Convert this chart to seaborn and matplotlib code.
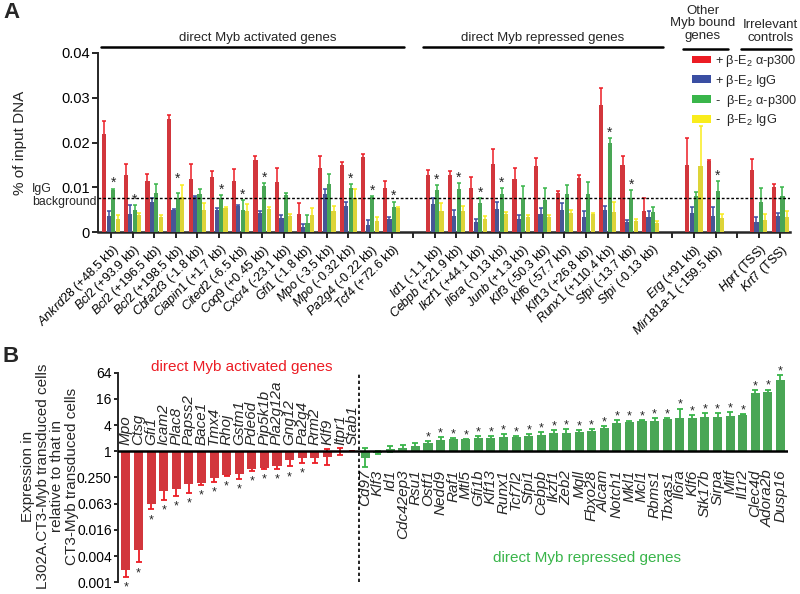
import numpy as np
import pandas as pd
import matplotlib
matplotlib.use('Agg')
import matplotlib.pyplot as plt
import matplotlib.transforms as mtrans
import seaborn as sns
from matplotlib.patches import Patch

sns.set_style('ticks')
plt.rcParams['font.family'] = ['Liberation Sans', 'DejaVu Sans']
plt.rcParams['mathtext.fontset'] = 'custom'
plt.rcParams['mathtext.rm'] = 'Liberation Sans'
plt.rcParams['mathtext.it'] = 'Liberation Sans:italic'
plt.rcParams['mathtext.bf'] = 'Liberation Sans:bold'

# ---------------- Panel A data ----------------
act_genes = ['Ankrd28', 'Bcl2', 'Bcl2', 'Bcl2', 'Cbfa2t3', 'Ciapin1', 'Cited2', 'Coq9',
             'Cxcr4', 'Gfi1', 'Mpo', 'Mpo', 'Pa2g4', 'Tcf4']
act_sites = ['+48.5 kb', '+93.9 kb', '+196.5 kb', '+198.5 kb', '-1.8 kb', '+1.7 kb', '-6.5 kb',
             '+0.45 kb', '-23.1 kb', '-1.8 kb', '-3.5 kb', '-0.32 kb', '-0.22 kb', '+72.6 kb']
rep_genes = ['Id1', 'Cebpb', 'Ikzf1', 'Il6ra', 'Junb', 'Klf3', 'Klf6', 'Klf13', 'Runx1', 'Sfpi', 'Sfpi']
rep_sites = ['-1.1 kb', '+21.9 kb', '+44.1 kb', '-0.13 kb', '+1.3 kb', '-50.3 kb', '-57.7 kb',
             '+26.8 kb', '+110.4 kb', '-13.7 kb', '-0.13 kb']
oth_genes = ['Erg', 'Mir181a-1']
oth_sites = ['+91 kb', '-159.5 kb']
irr_genes = ['Hprt', 'Krt7']
irr_sites = ['TSS', 'TSS']

conditions = ['+ β-E$_2$ α-p300', '+ β-E$_2$ IgG', '-  β-E$_2$ α-p300', '-  β-E$_2$ IgG']

red_val = [0.0218, 0.0128, 0.0113, 0.0253, 0.0119, 0.0123, 0.0113, 0.0160, 0.0111, 0.0040,
           0.0144, 0.0149, 0.0167, 0.0099,
           0.0127, 0.0127, 0.0099, 0.0151, 0.0119, 0.0147, 0.0088, 0.0120, 0.0284, 0.0149, 0.0047,
           0.0150, 0.0159, 0.0138, 0.0100]
red_err = [0.0031, 0.0023, 0.0016, 0.0009, 0.0032, 0.0013, 0.0028, 0.0010, 0.0033, 0.0024,
           0.0026, 0.0007, 0.0008, 0.0014,
           0.0011, 0.0009, 0.0023, 0.0034, 0.0024, 0.0019, 0.0004, 0.0007, 0.0038, 0.0021, 0.0028,
           0.0060, 0.0003, 0.0026, 0.0008]
blue_val = [0.0036, 0.0040, 0.0067, 0.0049, 0.0079, 0.0050, 0.0058, 0.0043, 0.0032, 0.0012,
            0.0084, 0.0059, 0.0015, 0.0030,
            0.0062, 0.0036, 0.0022, 0.0052, 0.0030, 0.0041, 0.0050, 0.0034, 0.0049, 0.0023, 0.0034,
            0.0043, 0.0036, 0.0023, 0.0036]
blue_err = [0.0011, 0.0021, 0.0009, 0.0002, 0.0002, 0.0003, 0.0003, 0.0004, 0.0007, 0.0006,
            0.0013, 0.0008, 0.0012, 0.0003,
            0.0014, 0.0014, 0.0006, 0.0015, 0.0008, 0.0012, 0.0014, 0.0012, 0.0010, 0.0004, 0.0012,
            0.0012, 0.0020, 0.0010, 0.0007]
green_val = [0.0093, 0.0049, 0.0088, 0.0076, 0.0084, 0.0077, 0.0050, 0.0103, 0.0082, 0.0021,
             0.0108, 0.0099, 0.0079, 0.0056,
             0.0093, 0.0095, 0.0064, 0.0086, 0.0077, 0.0071, 0.0086, 0.0086, 0.0199, 0.0076, 0.0045,
             0.0081, 0.0091, 0.0067, 0.0080]
green_err = [0.0004, 0.0011, 0.0020, 0.0011, 0.0012, 0.0005, 0.0021, 0.0007, 0.0006, 0.0018,
             0.0021, 0.0008, 0.0002, 0.0012,
             0.0011, 0.0015, 0.0012, 0.0013, 0.0025, 0.0028, 0.0018, 0.0025, 0.0011, 0.0017, 0.0010,
             0.0009, 0.0022, 0.0032, 0.0021]
yellow_val = [0.0028, 0.0037, 0.0033, 0.0078, 0.0049, 0.0053, 0.0048, 0.0052, 0.0036, 0.0038,
              0.0047, 0.0076, 0.0024, 0.0053,
              0.0047, 0.0047, 0.0028, 0.0041, 0.0034, 0.0034, 0.0043, 0.0041, 0.0045, 0.0024, 0.0019,
              0.0147, 0.0032, 0.0027, 0.0034]
yellow_err = [0.0009, 0.0006, 0.0005, 0.0028, 0.0015, 0.0003, 0.0014, 0.0004, 0.0005, 0.0015,
              0.0010, 0.0020, 0.0010, 0.0002,
              0.0017, 0.0010, 0.0007, 0.0004, 0.0004, 0.0004, 0.0007, 0.0002, 0.0022, 0.0004, 0.0005,
              0.0089, 0.0009, 0.0014, 0.0013]
# sites marked with an asterisk (index into the 29 sites)
a_star_idx = [0, 1, 3, 5, 6, 7, 11, 12, 13, 14, 15, 16, 17, 22, 23, 26]
igg_background = 0.0075

# ---------------- Panel B data ----------------
b_act_genes = ['Mpo', 'Ctsg', 'Gfi1', 'Icam2', 'Plac8', 'Papss2', 'Bace1', 'Tmx4', 'Rhoj', 'Gstm1',
               'Pde6d', 'Pip5k1b', 'Pla2g12a', 'Gng12', 'Pa2g4', 'Rrm2', 'Klf9', 'Itpr1', 'Stab1']
b_act_fold = [0.0019, 0.0055, 0.062, 0.122, 0.136, 0.174, 0.187, 0.244, 0.281, 0.296,
              0.39, 0.414, 0.45, 0.62, 0.70, 0.70, 0.74, 1.0, 1.0]
b_act_errend = [0.0013, 0.0028, 0.046, 0.077, 0.094, 0.11, 0.168, 0.20, 0.27, 0.23,
                0.35, 0.40, 0.39, 0.45, 0.54, 0.54, 0.48, 1.22, 1.0]
b_act_star = [True] * 15 + [False] * 4

b_rep_genes = ['Cd97', 'Klf3', 'Id1', 'Cdc42ep3', 'Rsu1', 'Ostf1', 'Nedd9', 'Raf1', 'Mtl5', 'Gfi1b',
               'Klf13', 'Runx1', 'Tcf7l2', 'Sfpi1', 'Cebpb', 'Ikzf1', 'Zeb2', 'Mgll', 'Fbxo28', 'Alcam',
               'Notch1', 'Mkl1', 'Mcl1', 'Rbms1', 'Tbxas1', 'Il6ra', 'Klf6', 'Stk17b', 'Sirpa', 'Mitf',
               'Il1r2', 'Clec4d', 'Adora2b', 'Dusp16']
b_rep_fold = [0.72, 0.93, 1.13, 1.21, 1.30, 1.56, 1.79, 1.96, 1.89, 2.06,
              2.02, 2.10, 2.13, 2.21, 2.42, 2.68, 2.68, 2.78, 2.99, 3.44,
              4.48, 4.72, 5.07, 4.89, 5.62, 5.83, 5.94, 6.15, 6.15, 6.6,
              6.96, 21.9, 23.1, 44.3]
b_rep_errend = [0.43, 0.86, 1.30, 1.42, 1.58, 1.69, 2.13, 2.06, 1.92, 2.2,
                2.25, 2.46, 2.25, 2.5, 2.79, 3.1, 3.32, 3.14, 3.32, 3.81,
                5.35, 5.1, 5.2, 5.94, 5.9, 9.6, 6.8, 7.6, 7.6, 7.9,
                7.1, 25.3, 26.2, 55.7]
b_rep_star = [False] * 5 + [True] * 29
b_ticks = [6, 4, 2, 0, -2, -4, -6, -8, -10]
b_ticklabels = ['64', '16', '4', '1', '0.250', '0.063', '0.016', '0.004', '0.001']

# ---------------- styling ----------------
RED, BLUE, GREEN, YELLOW = '#EC1C24', '#3A4EA2', '#39B54A', '#F9EC1C'
colorsA = [RED, BLUE, GREEN, YELLOW]
W, H = 800, 594


def fx(x):
    return x / W


def fy(y):
    return 1 - y / H


def site_label(g, s):
    parts = g.split('-')
    gene = '-'.join(r'$\mathit{%s}$' % p for p in parts)
    return '%s (%s)' % (gene, s)


fig = plt.figure(figsize=(8, 5.94), dpi=100)
axA = fig.add_axes([fx(98), fy(232), fx(790 - 98), (232 - 53) / H])
axB = fig.add_axes([fx(118), fy(582.3), fx(788 - 118), (582.3 - 372.7) / H])

# ---------------- Panel A ----------------
all_genes = act_genes + rep_genes + oth_genes + irr_genes
all_sites = act_sites + rep_sites + oth_sites + irr_sites
keys = ['%s (%s)' % (g, s) for g, s in zip(all_genes, all_sites)]
order = (keys[:14] + ['gap1'] + keys[14:25] + ['gap2'] + keys[25:27] + ['gap3'] + keys[27:])
slot = {k: i for i, k in enumerate(order)}

vals = [red_val, blue_val, green_val, yellow_val]
errs = [red_err, blue_err, green_err, yellow_err]
rows = []
for gi, k in enumerate(keys):
    for c, v in zip(conditions, vals):
        rows.append({'site': k, 'cond': c, 'value': v[gi]})
dfA = pd.DataFrame(rows)

sns.barplot(data=dfA, x='site', y='value', hue='cond', order=order, hue_order=conditions,
            palette=colorsA, errorbar=None, width=0.82, gap=0.06, linewidth=0,
            legend=False, ax=axA, zorder=3)

for ci in range(4):
    xs = [slot[k] - 0.3075 + 0.205 * ci for k in keys]
    axA.errorbar(xs, vals[ci], yerr=errs[ci], fmt='none', ecolor=colorsA[ci],
                 elinewidth=1.1, capsize=1.6, capthick=1.1, zorder=2)

for i in a_star_idx:
    top = max(blue_val[i] + blue_err[i], green_val[i] + green_err[i], yellow_val[i] + yellow_err[i])
    axA.text(slot[keys[i]] + 0.1, top + 0.0003, '*', ha='center', va='baseline', fontsize=10)

axA.axhline(igg_background, color='black', lw=1.0, ls=(0, (2, 1.4)), zorder=4)

axA.set_xlim(-0.6, len(order) - 0.55)
axA.set_ylim(0, 0.04)
axA.set_yticks([0, 0.01, 0.02, 0.03, 0.04])
axA.set_yticklabels(['0', '0.01', '0.02', '0.03', '0.04'], fontsize=10.5)
xt_labels = []
for k in order:
    if k.startswith('gap'):
        xt_labels.append('')
    else:
        i = keys.index(k)
        xt_labels.append(site_label(all_genes[i], all_sites[i]))
axA.set_xticks(range(len(order)))
axA.set_xticklabels(xt_labels, rotation=45, ha='right', rotation_mode='anchor', fontsize=9)
axA.tick_params(axis='x', length=4, width=1.2, pad=3, colors='black')
axA.tick_params(axis='y', length=4, width=1.2, pad=2, colors='black')
axA.set_xlabel('')
axA.set_ylabel('% of input DNA', fontsize=11)
axA.yaxis.set_label_coords((27 - 98) / (790 - 98), 0.5)
for sp in ['top', 'right']:
    axA.spines[sp].set_visible(False)
axA.spines['left'].set_linewidth(1.4)
axA.spines['bottom'].set_linewidth(1.8)

# group brackets: (start, end, bracket y, title, title x, title y)
tr = mtrans.blended_transform_factory(axA.transData, axA.transAxes)
brackets = [
    (slot[keys[0]] - 0.46, slot[keys[13]] + 0.56, 1.034, 'direct Myb activated genes', 6.8, 1.085),
    (slot[keys[14]] - 0.56, slot[keys[24]] + 0.55, 1.034, 'direct Myb repressed genes', 19.97, 1.085),
    (slot[keys[25]] - 0.5, slot[keys[26]] + 0.56, 1.022, 'Other\nMyb bound\ngenes', 27.42, 1.165),
    (slot[keys[27]] - 0.8, slot[keys[28]] + 0.5, 1.022, 'Irrelevant\ncontrols', 30.55, 1.12),
]
for x0, x1, yb, txt, xt, yt in brackets:
    axA.plot([x0, x1], [yb, yb], color='black', lw=1.8, transform=tr, clip_on=False)
    axA.text(xt, yt, txt, transform=tr, ha='center', va='center', fontsize=9.5,
             linespacing=1.05)

fig.text(fx(32), fy(189), 'IgG', ha='left', va='center', fontsize=8.8)
fig.text(fx(32), fy(202.5), 'background', ha='left', va='center', fontsize=8.8)

handles = [Patch(facecolor=c, edgecolor='none') for c in colorsA]
fig.legend(handles, conditions, loc='upper left', bbox_to_anchor=(fx(692), fy(53)),
           frameon=False, fontsize=9.2, handlelength=1.45, handleheight=0.55,
           handletextpad=0.35, labelspacing=0.3, borderaxespad=0, borderpad=0)

# ---------------- Panel B ----------------
b_genes = b_act_genes + b_rep_genes
b_fold = np.array(b_act_fold + b_rep_fold)
b_errend = np.array(b_act_errend + b_rep_errend)
b_l2 = np.log2(b_fold)
b_err = np.abs(np.log2(b_errend) - b_l2)
n_act = len(b_act_genes)
dfB = pd.DataFrame({'gene': b_genes, 'log2fc': b_l2,
                    'grp': ['act'] * n_act + ['rep'] * len(b_rep_genes)})
sns.barplot(data=dfB, x='gene', y='log2fc', hue='grp', order=b_genes, dodge=False,
            palette={'act': RED, 'rep': GREEN}, width=0.72, errorbar=None, linewidth=0,
            legend=False, ax=axB, zorder=3)
xs = np.arange(len(b_genes))
axB.errorbar(xs[:n_act], b_l2[:n_act], yerr=b_err[:n_act], fmt='none', ecolor=RED,
             elinewidth=1.3, capsize=2.0, capthick=1.3, zorder=2)
axB.errorbar(xs[n_act:], b_l2[n_act:], yerr=b_err[n_act:], fmt='none', ecolor=GREEN,
             elinewidth=1.3, capsize=2.0, capthick=1.3, zorder=2)

stars = b_act_star + b_rep_star
for i in range(len(b_genes)):
    if not stars[i]:
        continue
    if b_l2[i] < 0:
        axB.text(i, b_l2[i] - b_err[i] - 1.05, '*', ha='center', va='baseline', fontsize=9)
    else:
        axB.text(i, b_l2[i] + b_err[i] + 0.05, '*', ha='center', va='baseline', fontsize=9)

for i, g in enumerate(b_genes):
    if i < n_act:
        axB.text(i, 0.5, g, rotation=90, ha='center', va='bottom', fontsize=11,
                 style='italic')
    else:
        axB.text(i, -1.4, g, rotation=90, ha='center', va='top', fontsize=11,
                 style='italic')

axB.axhline(0, color='black', lw=1.8, zorder=4)
axB.axvline(n_act - 0.5, color='black', lw=1.2, ls=(0, (2, 1.6)), zorder=4)
axB.set_xlim(-0.63, len(b_genes) - 0.4)
axB.set_ylim(-10, 6)
axB.set_yticks(b_ticks)
axB.set_yticklabels(b_ticklabels, fontsize=10)
axB.set_xticks([])
axB.set_xlabel('')
axB.set_ylabel('')
axB.tick_params(axis='y', length=3, width=1.2, pad=1.5, colors='black')
for sp in ['top', 'right', 'bottom']:
    axB.spines[sp].set_visible(False)
axB.spines['left'].set_linewidth(1.4)

fig.text(fx(242), fy(367), 'direct Myb activated genes', color=RED, ha='center', va='center',
         fontsize=11)
fig.text(fx(587), fy(558), 'direct Myb repressed genes', color=GREEN, ha='center',
         va='center', fontsize=11)
fig.text(fx(50), fy(476), 'Expression in\nL302A.CT3-Myb transduced cells\nrelative to that in\nCT3-Myb transduced cells',
         rotation=90, ha='center', va='center', fontsize=11, linespacing=1.08)

fig.text(fx(3), fy(13), 'A', fontsize=16, fontweight='bold', ha='left', va='center')
fig.text(fx(3), fy(357), 'B', fontsize=16, fontweight='bold', ha='left', va='center')

fig.savefig('out.png', dpi=100)
